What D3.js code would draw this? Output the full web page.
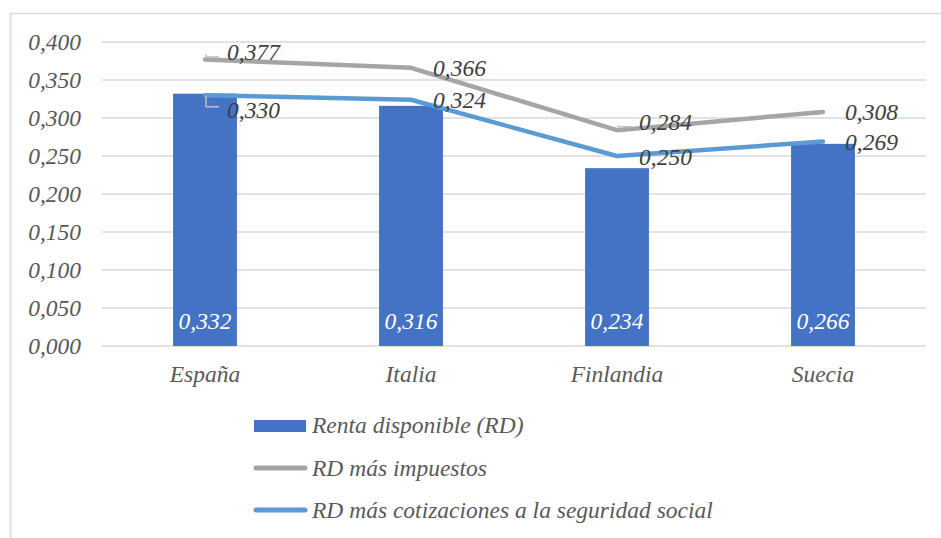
<!DOCTYPE html>
<html><head><meta charset="utf-8">
<script src="https://cdn.jsdelivr.net/npm/d3@7"></script>
<style>
html,body{margin:0;padding:0;background:#fff;}
</style></head>
<body><svg id="c" width="941" height="538"></svg>
<script>
const categories = ["España","Italia","Finlandia","Suecia"];
const rentaDisponible = [0.332,0.316,0.234,0.266];
const rdImpuestos = [0.377,0.366,0.284,0.308];
const rdCotizaciones = [0.330,0.324,0.250,0.269];
const yTicks = [0,0.05,0.1,0.15,0.2,0.25,0.3,0.35,0.4];
const seriesNames = ["Renta disponible (RD)","RD más impuestos","RD más cotizaciones a la seguridad social"];
const colors = {bar:"#4472C4", gray:"#A5A5A5", blue:"#5B9BD5"};

const svg = d3.select("#c");
const FONT = "Liberation Serif";
const fs = 23.5;
const fmt = v => d3.format(".3f")(v).replace(".", ",");
const styleText = sel => sel.attr("font-family",FONT).attr("font-style","italic").attr("font-size",fs);

// border
svg.append("rect").attr("x",10.5).attr("y",13.5).attr("width",960).attr("height",560)
  .attr("fill","none").attr("stroke","#D9D9D9").attr("stroke-width",1.5);

const x = d3.scaleBand().domain(categories).range([102,926]).paddingInner(0.69).paddingOuter(0.345);
const xc = d => x(d) + x.bandwidth()/2;
const y = d3.scaleLinear().domain([0,0.4]).range([346,42]);

// gridlines
svg.append("g").selectAll("line").data(yTicks).join("line")
  .attr("x1",102).attr("x2",926).attr("y1",d=>y(d)).attr("y2",d=>y(d))
  .attr("stroke","#D9D9D9").attr("stroke-width",1.5);

// y axis labels
const yAxis = d3.axisLeft(y).tickValues(yTicks).tickFormat(fmt).tickSize(0).tickPadding(0);
const ya = svg.append("g").attr("transform","translate(81,0)").call(yAxis)
  .attr("font-family",FONT).attr("font-size",fs);
ya.select(".domain").remove();
ya.selectAll("text").call(styleText).attr("fill","#595959").attr("dy","0.33em");

// bars
svg.append("g").selectAll("rect").data(categories).join("rect")
  .attr("x",d=>x(d)).attr("width",x.bandwidth())
  .attr("y",(d,i)=>y(rentaDisponible[i])).attr("height",(d,i)=>y(0)-y(rentaDisponible[i]))
  .attr("fill",colors.bar);

svg.append("g").selectAll("text").data(categories).join("text")
  .call(styleText)
  .attr("x",d=>xc(d)).attr("y",y(0)-17).attr("text-anchor","middle")
  .attr("fill","#fff")
  .text((d,i)=>fmt(rentaDisponible[i]));

// x axis labels
const xAxis = d3.axisBottom(x).tickSize(0).tickPadding(0);
const xa = svg.append("g").attr("transform","translate(0,"+y(0)+")").call(xAxis)
  .attr("font-family",FONT).attr("font-size",fs);
xa.select(".domain").remove();
xa.selectAll("text").call(styleText).attr("fill","#595959").attr("dy",null).attr("y",36);

// lines
const line = d3.line().x((d,i)=>xc(categories[i])).y(d=>y(d));
[[rdImpuestos,colors.gray],[rdCotizaciones,colors.blue]].forEach(([vals,col])=>{
  svg.append("path").datum(vals).attr("d",line).attr("fill","none")
    .attr("stroke",col).attr("stroke-width",4.5).attr("stroke-linejoin","round").attr("stroke-linecap","round");
});

// line labels (vertical shifts of manually moved labels)
const shifts = [[-8,0,-9,0],[14,0,0,0]];
[[rdImpuestos,shifts[0]],[rdCotizaciones,shifts[1]]].forEach(([vals,sh])=>{
  vals.forEach((v,i)=>{
    const px = xc(categories[i]), py = y(v);
    const base = py + 8.5 + sh[i];
    svg.append("text").call(styleText).attr("x",px+22).attr("y",base)
      .attr("fill","#404040").text(fmt(v));
    if(sh[i]!==0){
      const up = sh[i]<0;
      const y0 = up ? py-5 : py+1;
      const y1 = up ? base-3 : base-11;
      svg.append("path").attr("d",`M${px+1},${y0}V${y1}H${px+14}`)
        .attr("fill","none").attr("stroke","#BFBFBF").attr("stroke-width",1.5);
    }
  });
});

// legend
const lg = svg.append("g");
lg.append("rect").attr("x",254).attr("y",420).attr("width",52).attr("height",12).attr("fill",colors.bar);
lg.append("line").attr("x1",256).attr("x2",305).attr("y1",468).attr("y2",468)
  .attr("stroke",colors.gray).attr("stroke-width",5).attr("stroke-linecap","round");
lg.append("line").attr("x1",256).attr("x2",305).attr("y1",510).attr("y2",510)
  .attr("stroke",colors.blue).attr("stroke-width",5).attr("stroke-linecap","round");
[433,476,518].forEach((by,i)=>{
  lg.append("text").call(styleText).attr("x",312).attr("y",by).attr("fill","#595959").text(seriesNames[i]);
});
</script></body></html>
